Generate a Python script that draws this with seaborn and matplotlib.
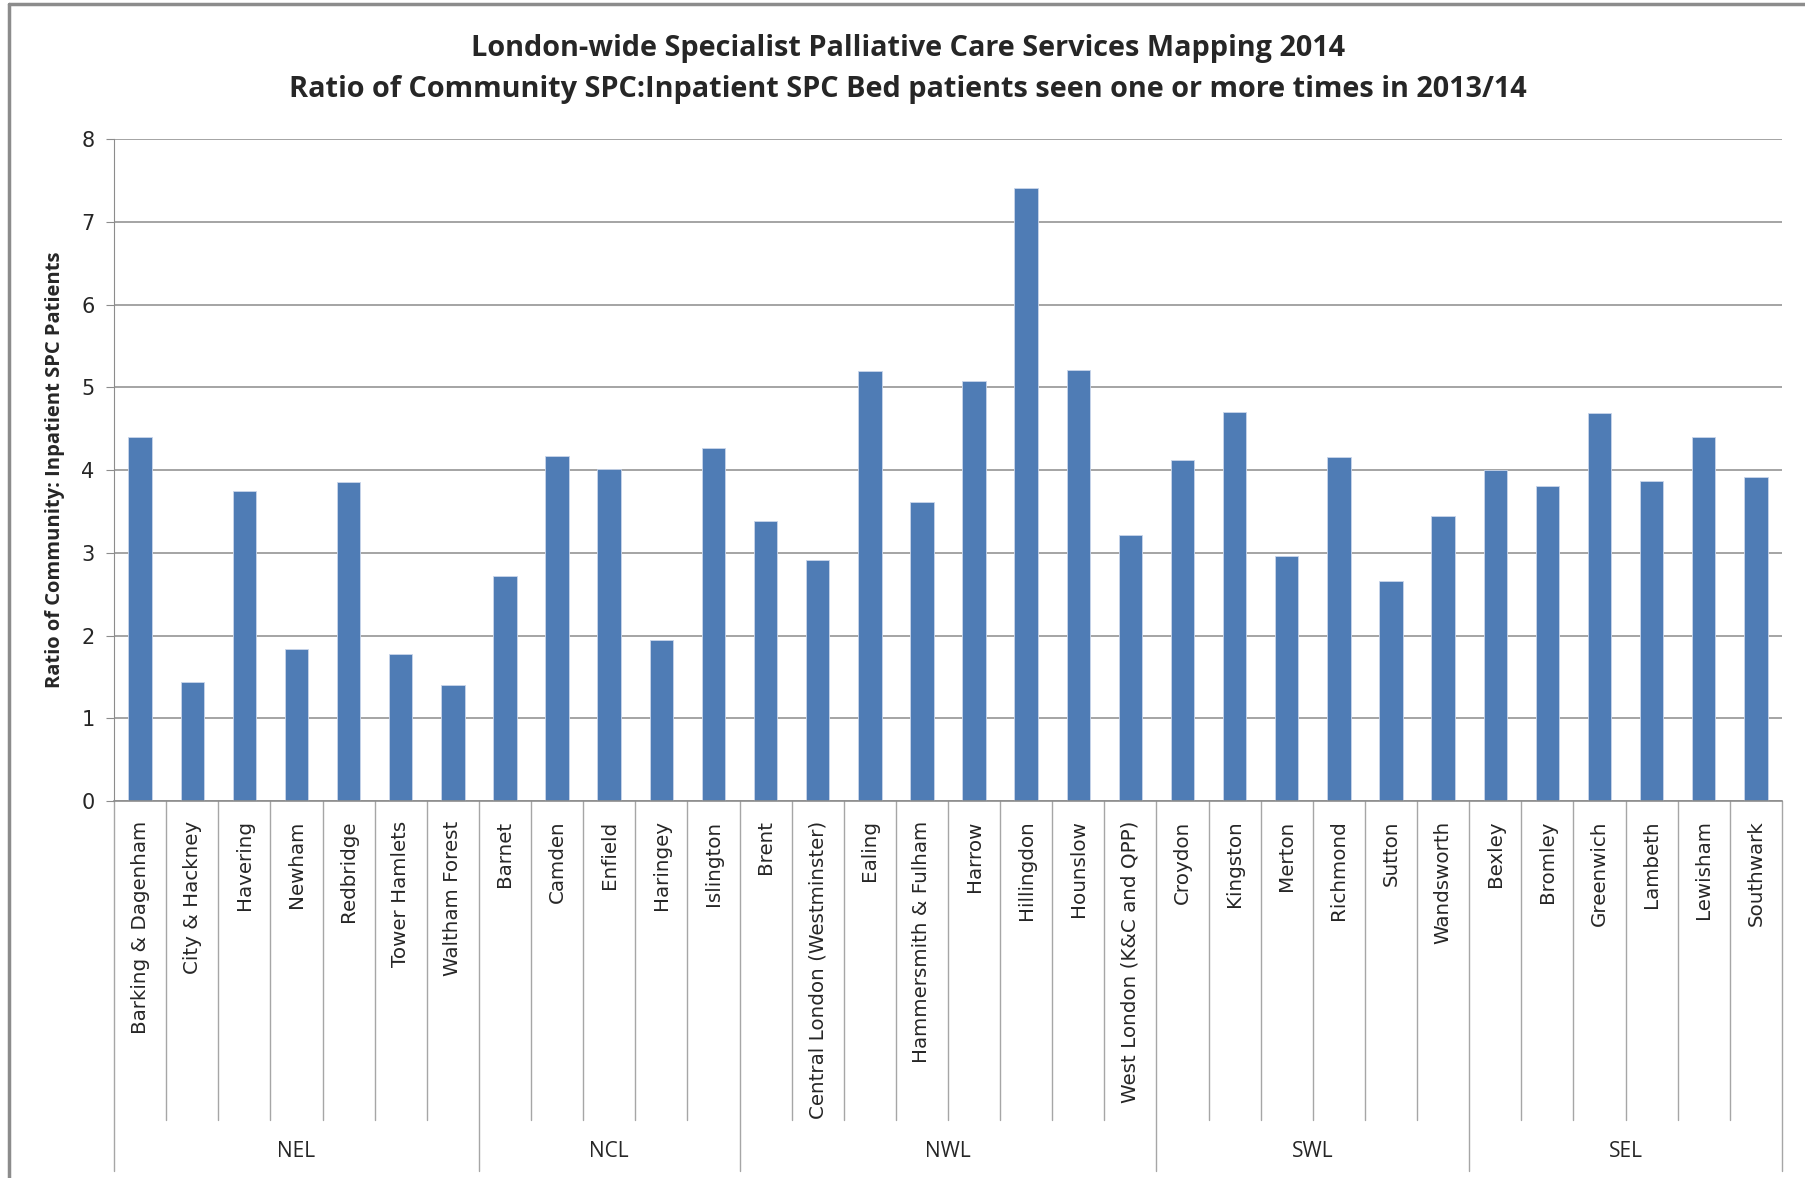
# Ratio of Community SPC : Inpatient SPC bed patients, London 2013/14
import pandas as pd
import seaborn as sns
import matplotlib.pyplot as plt
import matplotlib.transforms as mtransforms
from matplotlib.lines import Line2D

# Dados
grupos = ["NEL", "NCL", "NWL", "SWL", "SEL"]
tamanho_grupos = [7, 5, 8, 6, 6]

areas = [
    "Barking & Dagenham", "City & Hackney", "Havering", "Newham", "Redbridge",
    "Tower Hamlets", "Waltham Forest",
    "Barnet", "Camden", "Enfield", "Haringey", "Islington",
    "Brent", "Central London (Westminster)", "Ealing", "Hammersmith & Fulham",
    "Harrow", "Hillingdon", "Hounslow", "West London (K&C and QPP)",
    "Croydon", "Kingston", "Merton", "Richmond", "Sutton", "Wandsworth",
    "Bexley", "Bromley", "Greenwich", "Lambeth", "Lewisham", "Southwark",
]

razao = [
    4.40, 1.44, 3.75, 1.84, 3.86, 1.78, 1.40,
    2.72, 4.17, 4.01, 1.95, 4.27,
    3.38, 2.91, 5.20, 3.61, 5.07, 7.41, 5.21, 3.21,
    4.12, 4.70, 2.96, 4.16, 2.66, 3.45,
    4.00, 3.81, 4.69, 3.87, 4.40, 3.92,
]

df = pd.DataFrame({"area": areas, "razao": razao})

sns.set_style("white")
plt.rcParams["font.family"] = ["Open Sans", "DejaVu Sans"]

fig = plt.figure(figsize=(18.05, 11.78), dpi=100)
ax = fig.add_axes([0.0632, 0.320, 0.924, 0.562])

sns.barplot(data=df, x="area", y="razao", color="#4F7CB5", width=0.45,
            edgecolor="#C9D6EA", linewidth=0.6, saturation=1, ax=ax)

# Eixo Y e linhas de grade
ax.set_ylim(0, 8)
ax.set_yticks(range(0, 9))
ax.yaxis.grid(True, color="#8C8C8C", linewidth=1.1)
ax.set_axisbelow(True)
ax.tick_params(axis="y", labelsize=15, length=6, color="#8C8C8C", direction="out",
               left=True, pad=8)
for lab in ax.get_yticklabels():
    lab.set_family("DejaVu Sans")
ax.set_ylabel("Ratio of Community: Inpatient SPC Patients", fontsize=14.5,
              fontweight="bold", labelpad=12)
ax.set_xlabel("")

# Eixo X com rotulos verticais
ax.set_xlim(-0.5, len(areas) - 0.5)
ax.set_xticks(range(len(areas)))
ax.set_xticklabels(areas, rotation=90, fontsize=14.3, family="DejaVu Sans",
                   va="top", ha="center")
ax.tick_params(axis="x", length=0, pad=14)

for lado in ["top", "right"]:
    ax.spines[lado].set_visible(False)
ax.spines["left"].set_color("#8C8C8C")
ax.spines["bottom"].set_color("#8C8C8C")
ax.spines["bottom"].set_linewidth(1.2)

# Separadores de categorias e de grupos abaixo do eixo
trans = mtransforms.blended_transform_factory(ax.transData, ax.transAxes)
limites = [0]
for n in tamanho_grupos:
    limites.append(limites[-1] + n)

for i in range(len(areas) + 1):
    fundo = -0.559 if i in limites else -0.482
    ax.plot([i - 0.5, i - 0.5], [0, fundo], transform=trans, color="#A6A6A6",
            linewidth=1, clip_on=False)

for g, nome in enumerate(grupos):
    centro = (limites[g] + limites[g + 1] - 1) / 2
    ax.text(centro, -0.530, nome, transform=trans, ha="center", va="center",
            fontsize=15)

# Titulo
fig.text(0.503, 0.959, "London-wide Specialist Palliative Care Services Mapping 2014",
         ha="center", va="center", fontsize=20.8, fontweight="bold")
fig.text(0.503, 0.924, "Ratio of Community SPC:Inpatient SPC Bed patients seen one or more times in 2013/14",
         ha="center", va="center", fontsize=20.8, fontweight="bold")

# Moldura da area do grafico
fig.add_artist(Line2D([0.005, 0.005], [0.0, 0.997], color="#8C8C8C", linewidth=2.5))
fig.add_artist(Line2D([0.005, 1.0], [0.997, 0.997], color="#8C8C8C", linewidth=2.5))

plt.savefig("out.png", dpi=100)
